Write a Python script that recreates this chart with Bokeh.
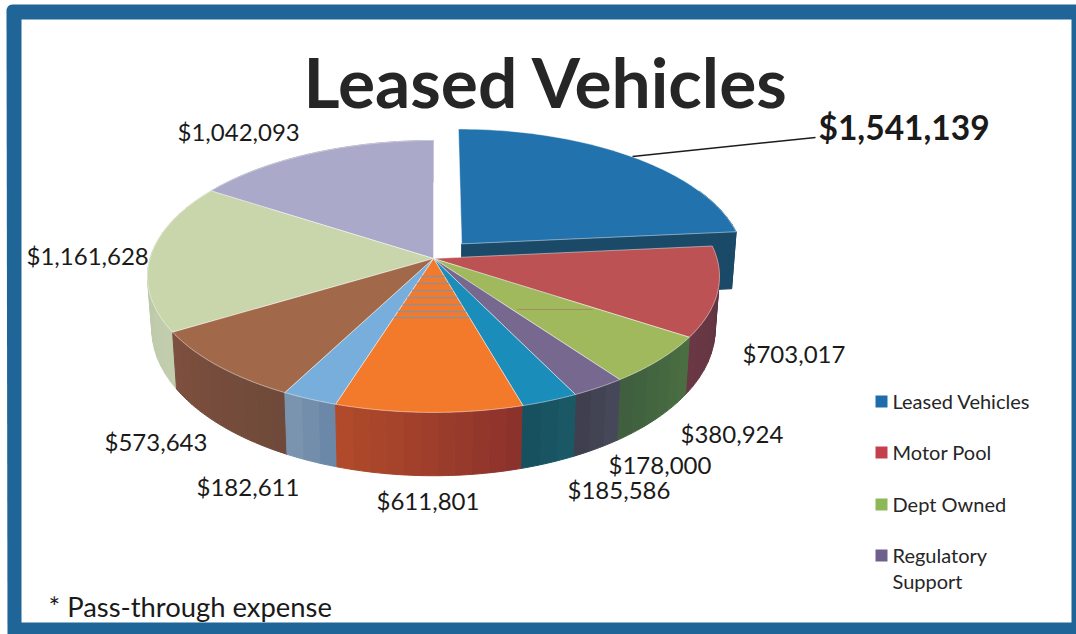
import numpy as np
from bokeh.plotting import figure
from bokeh.models import Range1d
from bokeh.core.properties import value
from bokeh.embed import file_html
from bokeh.resources import INLINE

# ---- data ----
categories = ["Leased Vehicles", "Motor Pool", "Dept Owned", "Regulatory Support", "Slice 5",
              "Slice 6", "Slice 7", "Slice 8", "Slice 9", "Slice 10"]
amounts = [1541139, 703017, 380924, 178000, 185586, 611801, 182611, 573643, 1161628, 1042093]
amount_labels = ["$1,541,139", "$703,017", "$380,924", "$178,000", "$185,586",
                 "$611,801", "$182,611", "$573,643", "$1,161,628", "$1,042,093"]
legend_names = ["Leased Vehicles", "Motor Pool", "Dept Owned", "Regulatory"]
title_text = "Leased Vehicles"
note_text = "* Pass-through expense"

# ---- styles ----
top_colors = ["#2273ad", "#bc5253", "#9fb95c", "#77688f", "#1a8dbb",
              "#f47a2b", "#78aedb", "#a1694a", "#c9d6ab", "#aba9c9"]
wall_left = ["#1b4a68", "#6a3844", "#3f5f3e", "#3f3f4d", "#17505f",
             "#b04a2a", "#7a93ae", "#7c4f3e", "#b9c4a4", "#8f8da8"]
wall_right = ["#1b4a68", "#5a3040", "#4a6e42", "#46485a", "#1a5866",
              "#8c322c", "#6c88a8", "#6f4a3a", "#c2cdae", "#8f8da8"]
legend_colors = ["#1f6cab", "#c4404f", "#8db858", "#6f5f8c"]
frame_color = "#1f6597"

# ---- geometry of the tilted pie (page pixels) ----
AX, AY = 433.0, 258.0     # apex on the screen
RA, RB, K = 283.5, 133.6, 0.132
EXPLODE = 0.15
WALL_DY, WALL_SY, WALL_SX = 51.0, 1.08, 0.985
EX_DY, EX_SY, EX_SX = 57.0, 1.0, 0.985


def project(px, py, floor=False, dy=WALL_DY, sy=WALL_SY, sx=WALL_SX):
    w = 1 + K * py
    x = RA * px / w
    y = -RB * py / w
    if floor:
        x = x * sx
        y = dy + y * sy
    return AX + x, AY + y


vals = np.array(amounts, dtype=float)
edges = np.concatenate([[0], np.cumsum(vals)]) / vals.sum() * 2 * np.pi

W, H = 1076, 634
p = figure(width=W, height=H, x_range=Range1d(0, W), y_range=Range1d(H, 0),
           output_backend="svg", toolbar_location=None, min_border=0,
           x_axis_type=None, y_axis_type=None, outline_line_color=None,
           background_fill_color="white", border_fill_color="white")
p.grid.visible = False

# frame: blue rounded panel with a white inner field
corner = np.linspace(np.pi, 1.5 * np.pi, 8)
fx = list(12 + 6 * np.cos(corner)) + [1076, 1076, 7]
fy = list(10 + 6 * np.sin(corner)) + [4, 634, 634]
p.patch(fx, fy, fill_color=frame_color, line_color=None)
p.quad(left=[21], right=[1071], top=[19], bottom=[622], fill_color="white", line_color=None)


def mix(c0, c1, t):
    a = [int(c0[i:i + 2], 16) for i in (1, 3, 5)]
    b = [int(c1[i:i + 2], 16) for i in (1, 3, 5)]
    return "#%02x%02x%02x" % tuple(int(round(u + (v - u) * t)) for u, v in zip(a, b))


def slice_offset(i):
    if i == 0:
        mid = (edges[0] + edges[1]) / 2
        return EXPLODE * np.sin(mid), EXPLODE * np.cos(mid)
    return 0.0, 0.0


def floor_args(i):
    return dict(dy=EX_DY, sy=EX_SY, sx=EX_SX) if i == 0 else {}


def draw_walls(i):
    ox, oy = slice_offset(i)
    fa = floor_args(i)
    t0, t1 = edges[i], edges[i + 1]
    if i == 0:
        # cut face of the exploded slice; only its far end of the rim shows
        pts = [(ox, oy), (ox + np.sin(t1), oy + np.cos(t1))]
        xt, yt = project(np.array([q[0] for q in pts]), np.array([q[1] for q in pts]))
        xb, yb = project(np.array([q[0] for q in pts]), np.array([q[1] for q in pts]), True, **fa)
        p.patch(list(xt) + list(xb[::-1]), list(yt) + list(yb[::-1]),
                fill_color=wall_left[i], line_color=wall_left[i])
        t0 = t1 - np.radians(20)
    n = max(3, int((t1 - t0) / np.radians(3)))
    steps = np.linspace(t0, t1, n + 1)
    for j in range(n):
        th = np.linspace(steps[j], steps[j + 1], 5)
        xt, yt = project(ox + np.sin(th), oy + np.cos(th))
        xb, yb = project(ox + np.sin(th), oy + np.cos(th), True, **fa)
        c = mix(wall_right[i], wall_left[i], j / max(1, n - 1))
        p.patch(list(xt) + list(xb[::-1]), list(yt) + list(yb[::-1]),
                fill_color=c, line_color=c, line_width=1)


def draw_top(i):
    ox, oy = slice_offset(i)
    th = np.linspace(edges[i], edges[i + 1], 60)
    xs = np.concatenate([[ox], ox + np.sin(th)])
    ys = np.concatenate([[oy], oy + np.cos(th)])
    x, y = project(xs, ys)
    p.patch(x, y, fill_color=top_colors[i], line_color="#ffffff", line_alpha=0.45, line_width=1)


# back walls first, exploded slice behind the rest
order = [9, 8, 0, 1, 7, 2, 6, 3, 5, 4]
for i in order:
    draw_walls(i)
for i in [0, 9, 8, 1, 2, 3, 4, 5, 6, 7]:
    draw_top(i)

# colour banding of the scan inside the orange slice
band_rows = [276, 283, 290, 297, 304, 311, 317]
th_a, th_b = edges[5], edges[6]
xa, ya = project(np.sin(th_a), np.cos(th_a))
xb, yb = project(np.sin(th_b), np.cos(th_b))
for r in band_rows:
    f0 = (r - AY) / (ya - AY)
    f1 = (r - AY) / (yb - AY)
    p.line([AX + (xa - AX) * f0, AX + (xb - AX) * f1], [r, r], line_color="#8f8f9a", line_width=1.6)

# stray scan line across the green slice
p.line([517, 592], [309, 309], line_color="#a58d5e", line_width=1)

# leader line
p.line([632, 815], [156, 137], line_color="#1c1c1c", line_width=1.5)

FONT = value("Lato")
p.text(x=[546], y=[80], text=[title_text], text_font=FONT, text_font_style="bold",
       text_font_size="69.5px", text_color="#262626", text_align="center", text_baseline="middle")

p.text(x=[818], y=[126], text=[amount_labels[0]], text_font=FONT, text_font_style="bold",
       text_font_size="33.5px", text_color="#1a1a1a", text_align="left", text_baseline="middle")

label_x = [742, 680, 608, 567, 376, 196, 104, 26, 177]
label_y = [353, 433, 464, 489, 500, 486, 441, 255, 131]
p.text(x=label_x, y=label_y, text=amount_labels[1:], text_font=FONT, text_font_size="24px",
       text_color="#1a1a1a", text_align="left", text_baseline="middle")

swatch_y = [401, 452, 504, 555]
legend_y = [400, 451, 503, 554]
p.rect(x=[881] * 4, y=swatch_y, width=12, height=12, fill_color=legend_colors, line_color=None)
p.text(x=[892] * 4, y=legend_y, text=legend_names, text_font=FONT, text_font_size="20px",
       text_color="#262626", text_align="left", text_baseline="middle")
p.text(x=[892], y=[580], text=["Support"], text_font=FONT, text_font_size="20px",
       text_color="#262626", text_align="left", text_baseline="middle")

p.text(x=[48], y=[606], text=[note_text], text_font=FONT, text_font_size="27.4px",
       text_color="#1a1a1a", text_align="left", text_baseline="middle")

open("out.html", "w").write(file_html(p, INLINE))
